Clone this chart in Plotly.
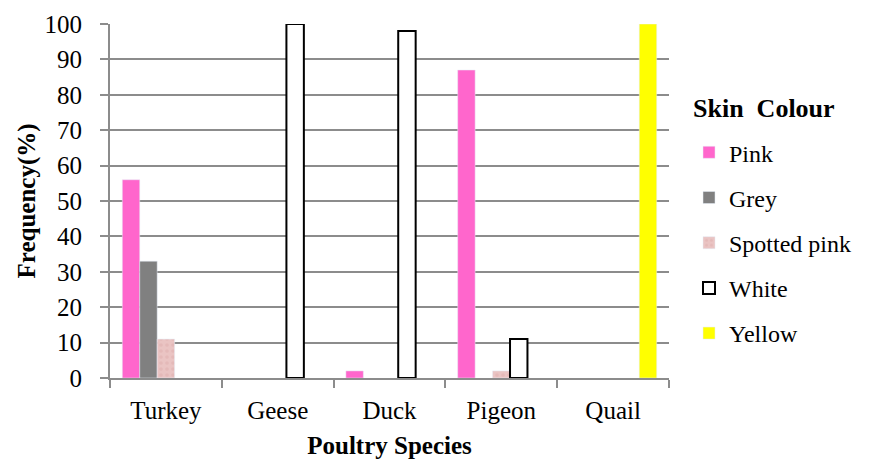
import plotly.graph_objects as go

species = ["Turkey", "Geese", "Duck", "Pigeon", "Quail"]
pink = [56, None, 2, 87, None]
grey = [33, None, None, None, None]
spotted_pink = [11, None, None, 2, None]
white = [None, 100, 98, 11, None]
yellow = [None, None, None, None, 100]

y_ticks = list(range(0, 101, 10))

FONT = "Liberation Serif"
AXIS_GREY = "#8c8c8c"

fig = go.Figure()

series = [
    ("Pink", pink, dict(color="#FF66CC")),
    ("Grey", grey, dict(color="#808080")),
    ("Spotted pink", spotted_pink,
     dict(color="#E8BDBC",
          pattern=dict(shape=".", fgcolor="#DDAEAD", bgcolor="#EAC4C3",
                       size=6, solidity=0.3))),
    ("White", white, dict(color="#FFFFFF", line=dict(color="#000000", width=2))),
    ("Yellow", yellow, dict(color="#FFFF00")),
]

for i, (name, vals, marker) in enumerate(series):
    fig.add_trace(go.Bar(
        name=name, x=species, y=vals, marker=marker,
        legendgroup=f"g{i}",
    ))

# legend heading drawn as a paper-anchored label above the entries
fig.add_annotation(
    text="<b>Skin&nbsp; Colour</b>", xref="paper", yref="paper",
    x=(691 - 110) / 559, y=(378 - 108) / 354,
    xanchor="left", yanchor="middle", showarrow=False,
    font=dict(family=FONT, size=26, color="#000000"),
)

fig.update_layout(
    width=871, height=462,
    margin=dict(l=110, r=202, t=24, b=84, autoexpand=False),
    paper_bgcolor="white", plot_bgcolor="white",
    barmode="group", bargap=0.22, bargroupgap=0,
    font=dict(family=FONT, color="#000000", size=25),
    showlegend=True,
    legend=dict(
        x=1.0358, xanchor="left", y=0.70, yanchor="top",
        font=dict(family=FONT, size=24),
        traceorder="grouped", tracegroupgap=11,
        itemwidth=30,
    ),
    xaxis=dict(
        title=dict(text="<b>Poultry Species</b>", font=dict(family=FONT, size=25), standoff=13),
        tickfont=dict(family=FONT, size=25),
        showline=True, linecolor=AXIS_GREY, linewidth=2,
        ticks="outside", tickson="boundaries", ticklen=8, tickwidth=2, tickcolor=AXIS_GREY,
        ticklabelstandoff=9, automargin=False,
        showgrid=False,
    ),
    yaxis=dict(
        title=dict(text="<b>Frequency(%)</b>", font=dict(family=FONT, size=25), standoff=2),
        range=[0, 100], tickvals=y_ticks,
        tickfont=dict(family=FONT, size=25),
        showline=True, linecolor=AXIS_GREY, linewidth=2,
        ticks="outside", ticklen=8, tickwidth=2, tickcolor=AXIS_GREY,
        ticklabelstandoff=13, automargin=False,
        showgrid=True, gridcolor=AXIS_GREY, gridwidth=2,
        zeroline=False,
    ),
)

fig.write_html("out.html")
